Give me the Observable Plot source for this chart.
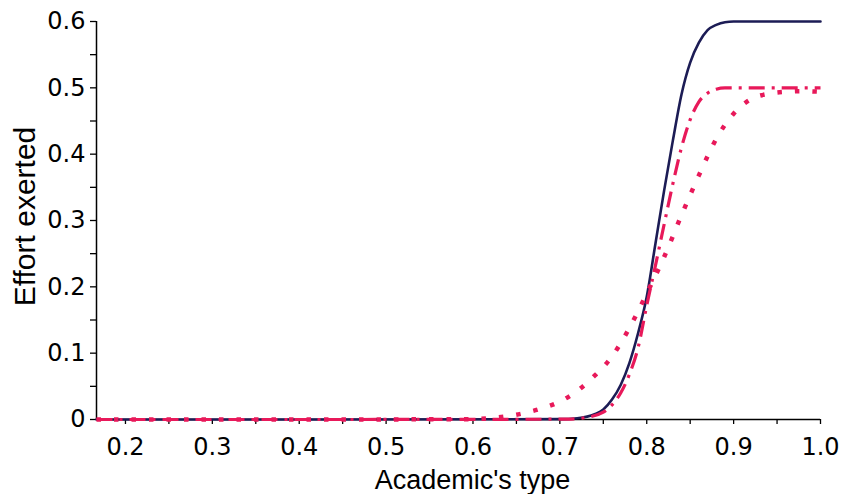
<!DOCTYPE html>
<html>
<head>
<meta charset="utf-8">
<script src="https://cdn.jsdelivr.net/npm/d3@7"></script>
<script src="https://cdn.jsdelivr.net/npm/@observablehq/plot@0.6"></script>
<style>
  html, body { margin: 0; padding: 0; background: #fff; }
  svg { display: block; }
</style>
</head>
<body>
<div id="chart"></div>
<script>
// ---- data ----
const xMin = 1 / 6;
const xMax = 1.0;
const yMax = 0.6;

const xMajorTicks = [0.2, 0.3, 0.4, 0.5, 0.6, 0.7, 0.8, 0.9, 1.0];
const xTickLabels = ["0.2", "0.3", "0.4", "0.5", "0.6", "0.7", "0.8", "0.9", "1.0"];
const xMinorTicks = [0.25, 0.35, 0.45, 0.55, 0.65, 0.75, 0.85, 0.95];
const yMajorTicks = [0, 0.1, 0.2, 0.3, 0.4, 0.5, 0.6];
const yTickLabels = ["0", "0.1", "0.2", "0.3", "0.4", "0.5", "0.6"];
const yMinorTicks = [0.05, 0.15, 0.25, 0.35, 0.45, 0.55];

// solid navy series
const solidX = [1/6, 0.40, 0.70, 0.72, 0.74, 0.75, 0.76, 0.77, 0.78, 0.79, 0.80, 0.81, 0.82, 0.83, 0.84, 0.85, 0.86, 0.87, 0.88, 0.89, 0.90, 0.95, 1.0];
const solidY = [0, 0, 0.0005, 0.002, 0.008, 0.015, 0.03, 0.052, 0.085, 0.13, 0.185, 0.265, 0.345, 0.42, 0.49, 0.538, 0.568, 0.587, 0.595, 0.599, 0.6, 0.6, 0.6];

// dash-dot crimson series
const dashdotX = [1/6, 0.40, 0.71, 0.73, 0.75, 0.76, 0.77, 0.78, 0.79, 0.80, 0.81, 0.82, 0.83, 0.84, 0.85, 0.86, 0.87, 0.88, 0.89, 0.95, 1.0];
const dashdotY = [0, 0, 0.0005, 0.003, 0.011, 0.022, 0.04, 0.068, 0.108, 0.172, 0.232, 0.294, 0.355, 0.41, 0.452, 0.479, 0.492, 0.498, 0.5, 0.5, 0.5];

// dotted crimson series
const dottedX = [1/6, 0.40, 0.60, 0.62, 0.64, 0.66, 0.68, 0.70, 0.72, 0.74, 0.76, 0.78, 0.80, 0.82, 0.84, 0.86, 0.88, 0.90, 0.92, 0.94, 0.96, 0.98, 1.0];
const dottedY = [0, 0, 0.0005, 0.002, 0.005, 0.01, 0.017, 0.027, 0.043, 0.066, 0.095, 0.138, 0.19, 0.245, 0.308, 0.368, 0.423, 0.461, 0.483, 0.491, 0.494, 0.495, 0.494];

const seriesPoints = (xs, ys) => xs.map((x, i) => ({x, y: ys[i]}));
const solid = seriesPoints(solidX, solidY);
const dashdot = seriesPoints(dashdotX, dashdotY);
const dotted = seriesPoints(dottedX, dottedY);

const navy = "#1c1c55";
const crimson = "#e8195a";
const tickFont = "DejaVu Sans";
const labelFont = "Liberation Sans, Arial, sans-serif";

const chart = Plot.plot({
  width: 842,
  height: 494,
  marginLeft: 96,
  marginRight: 22,
  marginTop: 21,
  marginBottom: 75,
  style: {fontFamily: tickFont, fontSize: "24px", color: "#000", background: "#fff"},
  x: {domain: [xMin, xMax], label: null},
  y: {domain: [0, yMax], label: null},
  marks: [
    // minor ticks
    Plot.axisX({ticks: xMinorTicks, tickSize: 5, tickFormat: () => "", strokeWidth: 1.3, label: null}),
    Plot.axisY({ticks: yMinorTicks, tickSize: 6, tickFormat: () => "", strokeWidth: 1.3, label: null}),
    // major ticks with labels
    Plot.axisX({ticks: xMajorTicks, tickSize: 5, tickPadding: 13, strokeWidth: 1.3,
      tickFormat: d => xTickLabels[xMajorTicks.findIndex(t => Math.abs(t - d) < 1e-9)],
      fontSize: 24, fontFamily: tickFont, label: null}),
    Plot.axisY({ticks: yMajorTicks, tickSize: 6, tickPadding: 5, strokeWidth: 1.3,
      tickFormat: d => yTickLabels[yMajorTicks.findIndex(t => Math.abs(t - d) < 1e-9)],
      fontSize: 24, fontFamily: tickFont, label: null}),
    // axis lines
    Plot.ruleY([0], {x1: xMin, x2: xMax, stroke: "#000", strokeWidth: 1.5}),
    Plot.ruleX([xMin], {y1: 0, y2: yMax, stroke: "#000", strokeWidth: 1.5}),
    // curves
    Plot.line(solid, {x: "x", y: "y", stroke: navy, strokeWidth: 2.6, curve: "monotone-x"}),
    Plot.line(dashdot, {x: "x", y: "y", stroke: crimson, strokeWidth: 3.2, curve: "monotone-x",
      strokeDasharray: "16,7,3,7", strokeLinecap: "butt"}),
    Plot.line(dotted, {x: "x", y: "y", stroke: crimson, strokeWidth: 4.5, curve: "monotone-x",
      strokeDasharray: "4.5,13", strokeLinecap: "butt"}),
    // axis titles
    Plot.text(["Academic's type"], {frameAnchor: "bottom", dx: 14, dy: 69, lineAnchor: "bottom",
      textAnchor: "middle", fontSize: 27, fontFamily: labelFont, fill: "#000"}),
    Plot.text(["Effort exerted"], {frameAnchor: "left", dx: -62, dy: -4, rotate: -90, lineAnchor: "bottom",
      textAnchor: "middle", fontSize: 30, fontFamily: labelFont, fill: "#000"})
  ]
});

document.getElementById("chart").appendChild(chart);
</script>
</body>
</html>
